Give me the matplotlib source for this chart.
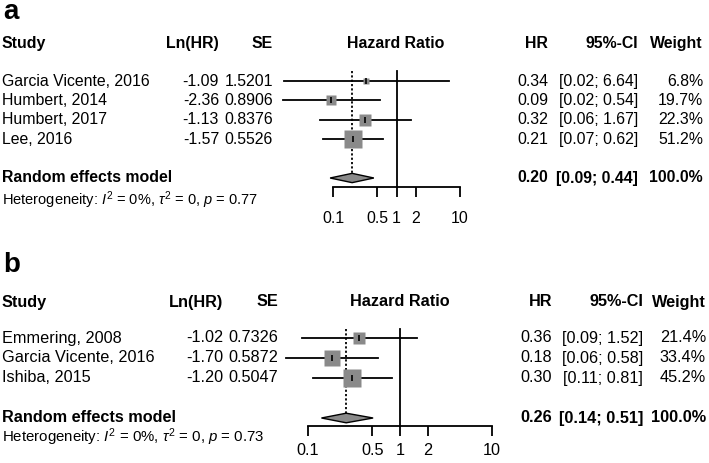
"""Two forest plots (hazard ratios) redrawn with matplotlib."""

import matplotlib.pyplot as plt
import matplotlib.transforms as mtransforms
import numpy as np

W, H = 709, 463

# panel a
studies_a = ["Garcia Vicente, 2016", "Humbert, 2014", "Humbert, 2017", "Lee, 2016"]
lnhr_a = [-1.09, -2.36, -1.13, -1.57]
se_a = [1.5201, 0.8906, 0.8376, 0.5526]
hr_a = ["0.34", "0.09", "0.32", "0.21"]
ci_a = ["[0.02; 6.64]", "[0.02; 0.54]", "[0.06; 1.67]", "[0.07; 0.62]"]
weight_a = [6.8, 19.7, 22.3, 51.2]
summary_a = [0.20, 0.09, 0.44]
summary_text_a = ["0.20", "[0.09; 0.44]", "100.0%"]
het_a = r"Heterogeneity: $I^2$ = 0%, $\tau^2$ = 0, $p$ = 0.77"

# panel b
studies_b = ["Emmering, 2008", "Garcia Vicente, 2016", "Ishiba, 2015"]
lnhr_b = [-1.02, -1.70, -1.20]
se_b = [0.7326, 0.5872, 0.5047]
hr_b = ["0.36", "0.18", "0.30"]
ci_b = ["[0.09; 1.52]", "[0.06; 0.58]", "[0.11; 0.81]"]
weight_b = [21.4, 33.4, 45.2]
summary_b = [0.26, 0.14, 0.51]
summary_text_b = ["0.26", "[0.14; 0.51]", "100.0%"]
het_b = r"Heterogeneity: $I^2$ = 0%, $\tau^2$ = 0, $p$ = 0.73"

ticks = [0.1, 0.5, 1, 2, 10]
tick_labels = ["0.1", "0.5", "1", "2", "10"]

plt.rcParams["font.family"] = ["Liberation Sans", "DejaVu Sans"]
plt.rcParams["mathtext.fontset"] = "custom"
plt.rcParams["mathtext.rm"] = "Liberation Sans"
plt.rcParams["mathtext.it"] = "Liberation Sans:italic"
plt.rcParams["mathtext.bf"] = "Liberation Sans:bold"

GREY = "#8a8a8a"


def draw_panel(fig, letter, studies, lnhr, se, hr, ci, weight, summary, summary_text,
               het, geo):
    """Draw one forest plot; geo holds pixel positions of the layout."""
    r0, s, yb = geo["row0"], geo["step"], geo["axis"]
    x1, decade = geo["one"], geo["decade"]
    left, right, top = geo["left"], geo["right"], 40
    fs = geo["fs"]

    ax = fig.add_axes([left / W, 1 - yb / H, (right - left) / W, (yb - top) / H])
    ax.set_xscale("log")
    ax.set_xlim(10 ** ((left - x1) / decade), 10 ** ((right - x1) / decade))
    ax.set_ylim((yb - r0) / s, (top - r0) / s)
    for side in ["top", "right", "left"]:
        ax.spines[side].set_visible(False)
    ax.spines["bottom"].set_bounds(ticks[0], ticks[-1])
    ax.spines["bottom"].set_linewidth(1.3)
    ax.set_yticks([])
    ax.set_xticks(ticks)
    ax.set_xticks([], minor=True)
    ax.set_xticklabels(tick_labels, fontsize=fs)
    ax.tick_params(axis="x", length=7.5, width=1.3, pad=geo["pad"], direction="out")
    ax.patch.set_visible(False)

    n = len(studies)
    rows = np.arange(n)
    sum_row = n + 1
    est = np.exp(lnhr)
    lo = np.exp(np.array(lnhr) - 1.96 * np.array(se))
    hi = np.exp(np.array(lnhr) + 1.96 * np.array(se))
    sizes = 17.5 * 0.72 * np.sqrt(np.array(weight) / max(weight))

    line_top = (geo["vtop"] - r0) / s
    ax.plot([1, 1], [line_top, ax.get_ylim()[0]], color="black", lw=1.3, clip_on=False)
    ax.plot([summary[0]] * 2, [line_top, sum_row - 0.25], color="black", lw=1.3,
            ls=(0, (1.2, 1.2)))
    for i in range(n):
        ax.plot([lo[i], hi[i]], [rows[i], rows[i]], color="black", lw=1.3, zorder=2)
        ax.plot(est[i], rows[i], marker="s", ms=sizes[i], color=GREY, mec="none", zorder=3)
        ax.plot(est[i], rows[i], marker="|", ms=4.5, mew=1.2, color="black", zorder=4)
    ax.fill([summary[1], summary[0], summary[2], summary[0]],
            [sum_row, sum_row - 0.24, sum_row, sum_row + 0.24],
            facecolor=GREY, edgecolor="black", lw=1, zorder=3)

    tr = mtransforms.blended_transform_factory(fig.transFigure, ax.transData)
    head = (geo["head"] - r0) / s
    cols = geo["cols"]
    fig.text(3 / W, 1 - geo["letter"] / H, letter, fontsize=20, fontweight="bold",
             va="baseline")
    kw = dict(transform=tr, fontsize=fs, va="center")
    bold = dict(kw, fontweight="bold")
    fig.text(2 / W, head, "Study", ha="left", **bold)
    fig.text(cols[0] / W, head, "Ln(HR)", ha="right", **bold)
    fig.text(cols[1] / W, head, "SE", ha="right", **bold)
    fig.text(cols[2] / W, head, "Hazard Ratio", ha="center", **bold)
    fig.text(cols[3] / W, head, "HR", ha="right", **bold)
    fig.text(cols[4] / W, head, "95%-CI", ha="right", **bold)
    fig.text(cols[5] / W, head, "Weight", ha="right", **bold)
    for i in range(n):
        fig.text(2 / W, rows[i], studies[i], ha="left", **kw)
        fig.text(cols[0] / W, rows[i], f"{lnhr[i]:.2f}", ha="right", **kw)
        fig.text(cols[1] / W, rows[i], f"{se[i]:.4f}", ha="right", **kw)
        fig.text(cols[3] / W, rows[i], hr[i], ha="right", **kw)
        fig.text(cols[4] / W, rows[i], ci[i], ha="right", **kw)
        fig.text(cols[5] / W, rows[i], f"{weight[i]:.1f}%", ha="right", **kw)
    fig.text(2 / W, sum_row, "Random effects model", ha="left", **bold)
    fig.text(cols[3] / W, sum_row, summary_text[0], ha="right", **bold)
    fig.text(cols[4] / W, sum_row, summary_text[1], ha="right", **bold)
    fig.text(cols[5] / W, sum_row, summary_text[2], ha="right", **bold)
    fig.text(2 / W, (geo["het"] - r0) / s, het, ha="left", transform=tr,
             fontsize=fs - 0.9, va="center")
    return ax


fig = plt.figure(figsize=(W / 100, H / 100), dpi=100)

geo_a = dict(row0=81, step=19.4, axis=187, one=396.5, decade=63.5, left=270, right=480,
             vtop=71, head=43, het=200, letter=19, fs=11.4, pad=10,
             cols=[219, 273, 396, 548, 638, 703])
geo_b = dict(row0=338, step=20, axis=426, one=400, decade=92, left=275, right=505,
             vtop=329, head=302, het=437, letter=272, fs=11.7, pad=5,
             cols=[223, 278, 400, 552, 643, 706])

draw_panel(fig, "a", studies_a, lnhr_a, se_a, hr_a, ci_a, weight_a, summary_a,
           summary_text_a, het_a, geo_a)
draw_panel(fig, "b", studies_b, lnhr_b, se_b, hr_b, ci_b, weight_b, summary_b,
           summary_text_b, het_b, geo_b)

fig.savefig("out.png", dpi=100)
